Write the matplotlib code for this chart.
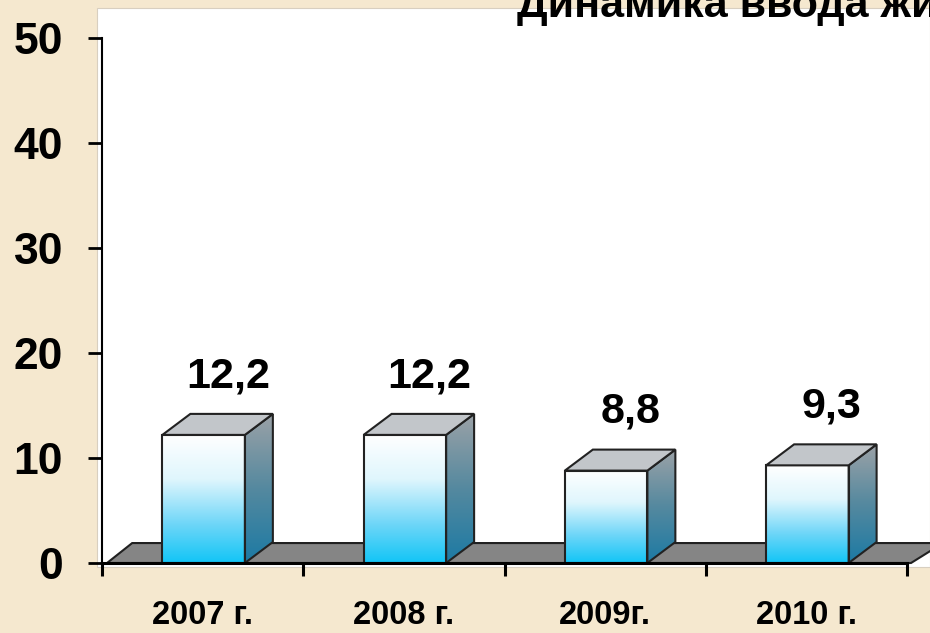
import numpy as np
import matplotlib
matplotlib.use('Agg')
import matplotlib.pyplot as plt
from matplotlib.patches import Polygon, Rectangle
from matplotlib.colors import LinearSegmentedColormap

# ─── data ─────────────────────────────────────────────
years = ['2007 г.', '2008 г.', '2009г.', '2010 г.']
values = [12.2, 12.2, 8.8, 9.3]
value_labels = ['12,2', '12,2', '8,8', '9,3']
y_ticks = [0, 10, 20, 30, 40, 50]
title = 'Динамика ввода жилья'

plt.rcParams['font.family'] = ['Liberation Sans', 'DejaVu Sans']
plt.rcParams['font.weight'] = 'bold'

fig = plt.figure(figsize=(9.3, 6.33), dpi=100)
fig.patch.set_facecolor('#f5e8cf')

# white plot area
fig.patches.append(Rectangle((97 / 930, 1 - 567 / 633), 833 / 930, 559 / 633,
                             transform=fig.transFigure, facecolor='white',
                             edgecolor='#d8cfc0', linewidth=0.8, zorder=0))

ax = fig.add_axes([102 / 930, 1 - 563 / 633, 805 / 930, 525 / 633])
ax.set_facecolor('none')
ax.set_zorder(2)

front_cmap = LinearSegmentedColormap.from_list(
    'front', [(0, '#12c5f6'), (0.3, '#6ed6f8'), (0.65, '#dff6fd'), (1, '#ffffff')])
side_cmap = LinearSegmentedColormap.from_list(
    'side', [(0, '#1c7aa4'), (0.5, '#55899f'), (1, '#9ca2a7')])

bw = 0.41     # front face width
dx = 0.139    # depth offset (x)
dy = 2.0      # depth offset (y)

# floor slab
floor = Polygon([(-0.475, 0), (3.52, 0), (3.52 + dx + 0.02, dy * 0.95),
                 (-0.475 + 0.125, dy * 0.95)], closed=True,
                facecolor='#858585', edgecolor='#202020', linewidth=1.5,
                zorder=1, clip_on=False)
ax.add_patch(floor)

grad = np.linspace(0, 1, 256).reshape(-1, 1)
for i, v in enumerate(values):
    x0 = i - bw / 2 + 0.005
    x1 = x0 + bw
    # front face
    front = Rectangle((x0, 0), bw, v, facecolor='none', edgecolor='#222222',
                      linewidth=1.5, zorder=4)
    ax.add_patch(front)
    im = ax.imshow(grad, cmap=front_cmap, origin='lower', aspect='auto',
                   extent=[x0, x1, 0, v], zorder=3)
    im.set_clip_path(front)
    # side face
    side = Polygon([(x1, 0), (x1 + dx, dy), (x1 + dx, v + dy), (x1, v)],
                   closed=True, facecolor='none', edgecolor='#222222',
                   linewidth=1.5, zorder=4)
    ax.add_patch(side)
    im2 = ax.imshow(grad, cmap=side_cmap, origin='lower', aspect='auto',
                    extent=[x1, x1 + dx, 0, v + dy], zorder=3)
    im2.set_clip_path(side)
    # top face
    top = Polygon([(x0, v), (x1, v), (x1 + dx, v + dy), (x0 + dx, v + dy)],
                  closed=True, facecolor='#c2c6ca', edgecolor='#222222',
                  linewidth=1.5, zorder=4)
    ax.add_patch(top)
    ax.text(i + 0.125, v + 5.6, value_labels[i], ha='center', va='center',
            fontsize=31, fontweight='bold', color='black', zorder=5)

ax.set_xlim(-0.5, 3.5)
ax.set_ylim(0, 50)

ax.spines['top'].set_visible(False)
ax.spines['right'].set_visible(False)
ax.spines['left'].set_linewidth(1.5)
ax.spines['bottom'].set_linewidth(2.2)
ax.spines['bottom'].set_zorder(6)

ax.set_yticks(y_ticks)
ax.set_yticklabels([str(t) for t in y_ticks])
ax.tick_params(axis='y', direction='out', length=10, width=2, pad=18,
               labelsize=32)

ax.set_xticks([-0.5, 0.5, 1.5, 2.5, 3.5])
ax.set_xticklabels([])
ax.set_xticks(range(len(years)), minor=True)
ax.set_xticklabels(years, minor=True)
ax.tick_params(axis='x', which='major', direction='out', length=9, width=2.2)
ax.tick_params(axis='x', which='minor', length=0, pad=27, labelsize=23.5)

fig.text(517 / 930, 1 - 17 / 633, title, ha='left', va='baseline',
         fontsize=31, fontweight='bold', color='black')

plt.savefig('out.png', dpi=100)
plt.close()
